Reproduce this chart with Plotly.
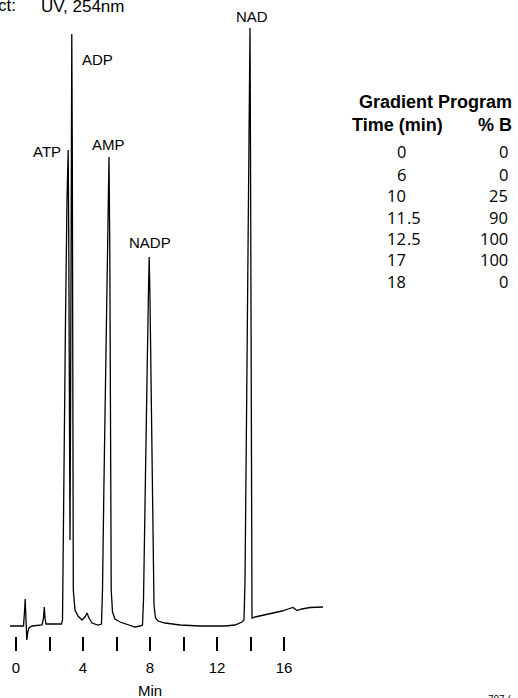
import plotly.graph_objects as go

# ---------------- data ----------------
time_min = [-0.358, 0.448, 0.507, 0.549, 0.597, 0.645, 0.704, 0.776, 0.955, 1.552,
            1.642, 1.690, 1.731, 1.791, 2.030, 2.716, 2.776, 2.806, 2.866, 2.955,
            3.045, 3.116, 3.152, 3.194, 3.224, 3.260, 3.296, 3.331, 3.361, 3.391,
            3.421, 3.522, 3.701, 3.940, 4.119, 4.239, 4.358, 4.537, 4.896, 5.104,
            5.164, 5.254, 5.403, 5.493, 5.552, 5.600, 5.642, 5.684, 5.761, 5.910,
            6.209, 6.687, 7.104, 7.403, 7.552, 7.612, 7.701, 7.821, 7.910, 7.952,
            8.000, 8.090, 8.179, 8.239, 8.328, 8.478, 8.896, 9.791, 10.985, 12.478,
            13.075, 13.493, 13.612, 13.672, 13.761, 13.851, 13.928, 13.970, 14.000, 14.030,
            14.060, 14.090, 14.269, 14.567, 14.985, 15.463, 15.881, 16.239, 16.537, 16.776,
            17.075, 17.552, 18.328]
signal_mau = [0.0, 0.0, 2.8, 5.4, 1.2, -2.8, -1.2, -0.4, 0.0, 0.2,
              1.6, 3.8, 1.6, 0.4, 0.4, 0.4, 1.2, 13.2, 35.2, 61.2,
              85.2, 95.2, 75.2, 35.2, 17.2, 45.2, 95.2, 118.4, 95.2, 35.2,
              7.2, 3.2, 2.0, 1.2, 1.8, 2.6, 1.6, 0.6, 0.2, 0.4,
              7.2, 29.2, 61.2, 83.2, 93.8, 75.2, 35.2, 7.2, 2.8, 1.4,
              0.8, 0.2, -0.2, 0.0, 0.2, 5.2, 21.2, 49.2, 67.2, 73.8,
              65.2, 41.2, 15.2, 4.2, 1.6, 1.0, 0.6, 0.2, 0.0, 0.0,
              0.2, 0.8, 1.2, 9.2, 41.2, 75.2, 105.2, 119.6, 95.2, 35.2,
              5.2, 1.6, 1.8, 2.0, 2.4, 2.6, 3.0, 3.4, 3.7, 3.1,
              3.4, 3.7, 3.8]

peak_names = ["ATP", "ADP", "AMP", "NADP", "NAD"]

tick_values = [0, 2, 4, 6, 8, 10, 12, 14, 16]
tick_labels = ["0", "", "4", "", "8", "", "12", "", "16"]

gradient_time = ["0", "6", "10", "11.5", "12.5", "17", "18"]
gradient_pct_b = ["0", "0", "25", "90", "100", "100", "0"]

detector_label = "Detect:"
detector_value = "UV, 254nm"
x_title = "Min"
table_title = "Gradient Program"
col_headers = ["Time (min)", "% B"]
figure_code = "707 ("

# ---------------- layout helpers ----------------
W, H = 518, 698
X0_PX, PX_PER_MIN = 16, 16.75     # x position of t=0 and scale
Y0_PX, PX_PER_UNIT = 626, 5       # baseline position and scale


def px(x):
    return x / W


def py(y):
    return 1 - y / H


def tx(x_px):
    return (x_px - X0_PX) / PX_PER_MIN


def vy(y_px):
    return (Y0_PX - y_px) / PX_PER_UNIT


ARIAL = "Liberation Sans, Arial, sans-serif"
NUMF = "Open Sans, sans-serif"

fig = go.Figure()
fig.add_trace(go.Scatter(x=time_min, y=signal_mau, mode="lines",
                         line=dict(color="black", width=1.3),
                         hoverinfo="skip", showlegend=False))

# detector label, partially cut at the left edge like the original
fig.add_trace(go.Scatter(x=[tx(16)], y=[vy(7)], mode="text", text=[detector_label],
                         textposition="middle left", cliponaxis=True,
                         textfont=dict(family=ARIAL, size=17, color="black"),
                         hoverinfo="skip", showlegend=False))

annotations = []
# peak labels (pixel centres)
label_pos = [(46.5, 151.5), (97.5, 59.5), (108, 144.5), (150, 242.5), (252, 16.7)]
for name, (lx, ly) in zip(peak_names, label_pos):
    annotations.append(dict(text=name, x=px(lx), y=py(ly), xref="paper", yref="paper",
                            xanchor="center", yanchor="middle", showarrow=False,
                            font=dict(family=ARIAL, size=15, color="black")))

annotations.append(dict(text=detector_value, x=px(38.5), y=py(7), xref="paper", yref="paper",
                        xanchor="left", yanchor="middle", showarrow=False,
                        font=dict(family=ARIAL, size=17, color="black")))

# axis title
annotations.append(dict(text=x_title, x=px(150), y=py(690), xref="paper", yref="paper",
                        xanchor="center", yanchor="middle", showarrow=False,
                        font=dict(family=ARIAL, size=15, color="black")))

# table
annotations.append(dict(text="<b>%s</b>" % table_title, x=px(435), y=py(102), xref="paper",
                        yref="paper", xanchor="center", yanchor="middle", showarrow=False,
                        font=dict(family=ARIAL, size=18, color="black")))
annotations.append(dict(text="<b>%s</b>" % col_headers[0], x=px(397.5), y=py(124.5),
                        xref="paper", yref="paper", xanchor="center", yanchor="middle",
                        showarrow=False, font=dict(family=ARIAL, size=18, color="black")))
annotations.append(dict(text="<b>%s</b>" % col_headers[1], x=px(514), y=py(124.5),
                        xref="paper", yref="paper", xanchor="right", yanchor="middle",
                        showarrow=False, font=dict(family=ARIAL, size=18, color="black")))

row_y = [151.5, 174.5, 195.8, 217.1, 238.4, 259.7, 281.0]
for tval, bval, ry in zip(gradient_time, gradient_pct_b, row_y):
    ip, _, fp = tval.partition(".")
    annotations.append(dict(text=ip, x=px(407.5), y=py(ry), xref="paper", yref="paper",
                            xanchor="right", yanchor="middle", showarrow=False,
                            font=dict(family=NUMF, size=16.5, color="black")))
    if fp:
        annotations.append(dict(text="." + fp, x=px(405), y=py(ry), xref="paper",
                                yref="paper", xanchor="left", yanchor="middle",
                                showarrow=False,
                                font=dict(family=NUMF, size=16.5, color="black")))
    annotations.append(dict(text=bval, x=px(509.5), y=py(ry), xref="paper", yref="paper",
                            xanchor="right", yanchor="middle", showarrow=False,
                            font=dict(family=NUMF, size=16.5, color="black")))

annotations.append(dict(text=figure_code, x=px(486), y=py(692), xref="paper", yref="paper",
                        xanchor="left", yanchor="top", showarrow=False,
                        font=dict(family=ARIAL, size=10, color="black")))

fig.update_layout(
    width=W, height=H,
    margin=dict(l=0, r=0, t=0, b=0, pad=0),
    paper_bgcolor="white", plot_bgcolor="white",
    showlegend=False,
    annotations=annotations,
    xaxis=dict(range=[tx(0), tx(W)],
               tickmode="array", tickvals=tick_values, ticktext=tick_labels,
               ticks="outside", ticklen=14, tickwidth=1.5, tickcolor="black",
               ticklabelstandoff=4,
               showgrid=False, zeroline=False, showline=False,
               anchor="free", position=1 - 636 / H,
               tickfont=dict(family=ARIAL, size=15, color="black"),
               fixedrange=True),
    yaxis=dict(range=[vy(H), vy(0)], visible=False, showgrid=False,
               zeroline=False, fixedrange=True),
)

fig.write_html("out.html")
